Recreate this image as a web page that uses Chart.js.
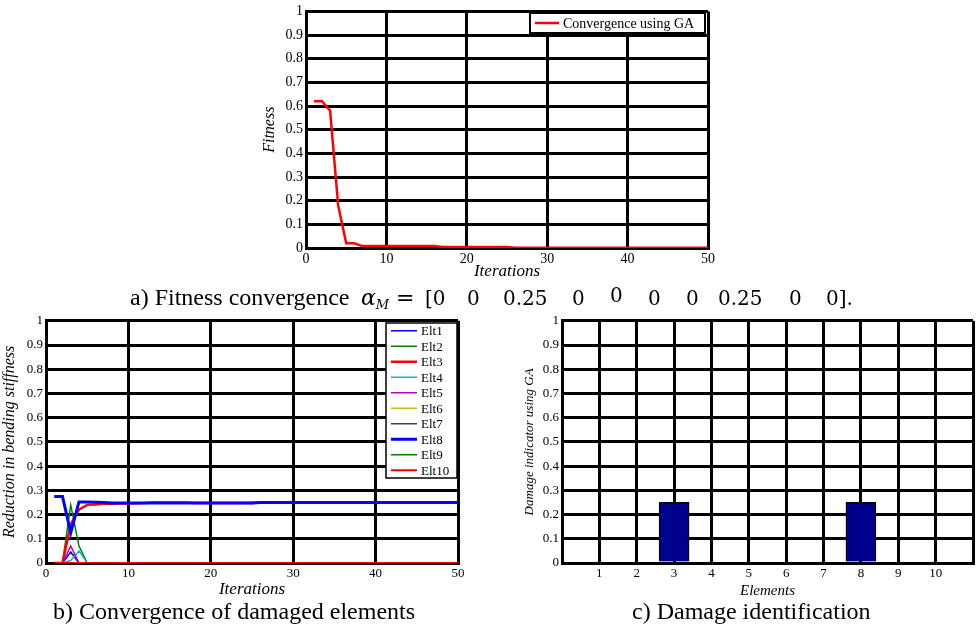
<!DOCTYPE html>
<html>
<head>
<meta charset="utf-8">
<script src="https://cdn.jsdelivr.net/npm/chart.js@4.4.0/dist/chart.umd.min.js"></script>
<style>
  body { margin: 0; background: #fff; width: 977px; height: 627px; position: relative; overflow: hidden; font-family: "Liberation Serif", serif; }
  .box { position: absolute; }
  .cap { position: absolute; font-size: 24px; white-space: nowrap; color: #000; }
  .m { position: absolute; font-family: "DejaVu Serif", serif; font-size: 20px; white-space: nowrap; }
</style>
</head>
<body>
<div class="box" style="left:250px;top:0;width:470px;height:282px"><canvas id="fitness-chart"></canvas></div>
<div class="box" style="left:0;top:310px;width:480px;height:290px"><canvas id="convergence-chart"></canvas></div>
<div class="box" style="left:500px;top:310px;width:477px;height:290px"><canvas id="damage-chart"></canvas></div>

<div class="cap" style="left:130px;top:284px">a) Fitness convergence</div>
<div class="m" style="left:361px;top:285px;font-size:22px"><i>α</i><sub style="font-size:13px;vertical-align:-4px"><i>M</i></sub></div>
<div class="m" style="left:396px;top:285px;font-size:22px">=</div>
<div class="m" style="left:425px;top:286px">[0</div>
<div class="m" style="left:467px;top:286px">0</div>
<div class="m" style="left:503px;top:286px">0.25</div>
<div class="m" style="left:572px;top:286px">0</div>
<div class="m" style="left:610px;top:283px">0</div>
<div class="m" style="left:648px;top:286px">0</div>
<div class="m" style="left:686px;top:286px">0</div>
<div class="m" style="left:718px;top:286px">0.25</div>
<div class="m" style="left:789px;top:286px">0</div>
<div class="m" style="left:826px;top:286px">0].</div>

<div class="cap" style="left:53px;top:598px">b) Convergence of damaged elements</div>
<div class="cap" style="left:632px;top:598px">c) Damage identification</div>

<script>
var iterations = [1, 2, 3, 4, 5, 6, 7, 8, 9, 10,
                  11, 12, 13, 14, 15, 16, 17, 18, 19, 20,
                  21, 22, 23, 24, 25, 26, 27, 28, 29, 30,
                  31, 32, 33, 34, 35, 36, 37, 38, 39, 40,
                  41, 42, 43, 44, 45, 46, 47, 48, 49, 50];

var fitness = [0.62, 0.62, 0.58, 0.18, 0.02, 0.02, 0.008, 0.008, 0.008, 0.008,
               0.008, 0.008, 0.008, 0.008, 0.008, 0.008, 0.004, 0.004, 0.004, 0.004,
               0.004, 0.004, 0.004, 0.004, 0.004, 0.001, 0.001, 0.001, 0.001, 0.001,
               0.001, 0.001, 0.001, 0.001, 0.001, 0.001, 0.001, 0.001, 0.001, 0.001,
               0.001, 0.001, 0.001, 0.001, 0.001, 0.001, 0.001, 0.001, 0.001, 0.001];

var eltNames = ["Elt1", "Elt2", "Elt3", "Elt4", "Elt5", "Elt6", "Elt7", "Elt8", "Elt9", "Elt10"];
var eltColors = ["#0000ff", "#008000", "#ff0000", "#00bfbf", "#bf00bf", "#bfbf00", "#404040", "#0000ff", "#008000", "#ff0000"];
var eltWidths = [1.5, 1.5, 2.5, 1.5, 1.5, 1.5, 1.5, 3, 1.5, 2];

var elt1 = [0, 0, 0.045, 0, 0, 0, 0, 0, 0, 0,
            0, 0, 0, 0, 0, 0, 0, 0, 0, 0,
            0, 0, 0, 0, 0, 0, 0, 0, 0, 0,
            0, 0, 0, 0, 0, 0, 0, 0, 0, 0,
            0, 0, 0, 0, 0, 0, 0, 0, 0, 0];
var elt2 = [0, 0, 0.24, 0.07, 0, 0, 0, 0, 0, 0,
            0, 0, 0, 0, 0, 0, 0, 0, 0, 0,
            0, 0, 0, 0, 0, 0, 0, 0, 0, 0,
            0, 0, 0, 0, 0, 0, 0, 0, 0, 0,
            0, 0, 0, 0, 0, 0, 0, 0, 0, 0];
var elt3 = [0, 0, 0.16, 0.22, 0.24, 0.242, 0.245, 0.245, 0.246, 0.246,
            0.247, 0.248, 0.25, 0.25, 0.25, 0.25, 0.25, 0.248, 0.248, 0.248,
            0.248, 0.248, 0.248, 0.248, 0.248, 0.25, 0.25, 0.25, 0.25, 0.25,
            0.25, 0.25, 0.25, 0.25, 0.25, 0.25, 0.25, 0.25, 0.25, 0.25,
            0.25, 0.25, 0.25, 0.25, 0.25, 0.25, 0.25, 0.25, 0.25, 0.25];
var elt4 = [0, 0, 0.01, 0.05, 0, 0, 0, 0, 0, 0,
            0, 0, 0, 0, 0, 0, 0, 0, 0, 0,
            0, 0, 0, 0, 0, 0, 0, 0, 0, 0,
            0, 0, 0, 0, 0, 0, 0, 0, 0, 0,
            0, 0, 0, 0, 0, 0, 0, 0, 0, 0];
var elt5 = [0, 0, 0.07, 0, 0, 0, 0, 0, 0, 0,
            0, 0, 0, 0, 0, 0, 0, 0, 0, 0,
            0, 0, 0, 0, 0, 0, 0, 0, 0, 0,
            0, 0, 0, 0, 0, 0, 0, 0, 0, 0,
            0, 0, 0, 0, 0, 0, 0, 0, 0, 0];
var elt6 = [0, 0, 0, 0, 0, 0, 0, 0, 0, 0,
            0, 0, 0, 0, 0, 0, 0, 0, 0, 0,
            0, 0, 0, 0, 0, 0, 0, 0, 0, 0,
            0, 0, 0, 0, 0, 0, 0, 0, 0, 0,
            0, 0, 0, 0, 0, 0, 0, 0, 0, 0];
var elt7 = [0, 0, 0, 0, 0, 0, 0, 0, 0, 0,
            0, 0, 0, 0, 0, 0, 0, 0, 0, 0,
            0, 0, 0, 0, 0, 0, 0, 0, 0, 0,
            0, 0, 0, 0, 0, 0, 0, 0, 0, 0,
            0, 0, 0, 0, 0, 0, 0, 0, 0, 0];
var elt8 = [0.275, 0.275, 0.125, 0.252, 0.252, 0.251, 0.25, 0.248, 0.248, 0.248,
            0.248, 0.248, 0.248, 0.248, 0.248, 0.248, 0.248, 0.248, 0.248, 0.248,
            0.248, 0.248, 0.248, 0.248, 0.248, 0.25, 0.25, 0.25, 0.25, 0.25,
            0.25, 0.25, 0.25, 0.25, 0.25, 0.25, 0.25, 0.25, 0.25, 0.25,
            0.25, 0.25, 0.25, 0.25, 0.25, 0.25, 0.25, 0.25, 0.25, 0.25];
var elt9 = [0, 0, 0, 0, 0, 0, 0, 0, 0, 0,
            0, 0, 0, 0, 0, 0, 0, 0, 0, 0,
            0, 0, 0, 0, 0, 0, 0, 0, 0, 0,
            0, 0, 0, 0, 0, 0, 0, 0, 0, 0,
            0, 0, 0, 0, 0, 0, 0, 0, 0, 0];
var elt10 = [0, 0, 0, 0, 0, 0, 0, 0, 0, 0,
             0, 0, 0, 0, 0, 0, 0, 0, 0, 0,
             0, 0, 0, 0, 0, 0, 0, 0, 0, 0,
             0, 0, 0, 0, 0, 0, 0, 0, 0, 0,
             0, 0, 0, 0, 0, 0, 0, 0, 0, 0];

var elements = [1, 2, 3, 4, 5, 6, 7, 8, 9, 10];
var damage = [0, 0, 0.25, 0, 0, 0, 0, 0.25, 0, 0];

Chart.defaults.font.family = '"Liberation Serif", serif';
Chart.defaults.color = "#000";

var toPoints = function (xs, ys) {
   return xs.map(function (x, i) { return { x: x, y: ys[i] }; });
};

// legend box drawn inside the plot, matlab style
var boxLegend = {
   id: "boxLegend",
   afterDraw: function (chart, args, opts) {
      var ctx = chart.ctx;
      var sets = chart.data.datasets;
      ctx.save();
      ctx.fillStyle = "#fff";
      ctx.fillRect(opts.x, opts.y, opts.w, opts.h);
      ctx.strokeStyle = "#000";
      ctx.lineWidth = opts.border;
      ctx.strokeRect(opts.x, opts.y, opts.w, opts.h);
      ctx.font = opts.font;
      ctx.textBaseline = "middle";
      ctx.fillStyle = "#000";
      for (var i = 0; i < sets.length; i++) {
         var cy = opts.y + opts.pad + opts.rowH * (i + 0.5);
         ctx.beginPath();
         ctx.strokeStyle = sets[i].borderColor;
         ctx.lineWidth = sets[i].borderWidth;
         ctx.moveTo(opts.x + 5, cy);
         ctx.lineTo(opts.x + 5 + opts.lineLen, cy);
         ctx.stroke();
         ctx.fillText(sets[i].label, opts.x + 9 + opts.lineLen, cy + 1);
      }
      ctx.restore();
   }
};

var makeAxis = function (min, max, step, title, titleSize, tickSize, fit, hideEnds) {
   return {
      type: "linear",
      min: min,
      max: max,
      offset: false,
      ticks: {
         stepSize: step,
         font: { size: tickSize },
         padding: 3,
         autoSkip: false,
         callback: function (v) {
            if (hideEnds && (v === min || v === max)) return "";
            return +v.toFixed(1);
         }
      },
      grid: { color: "#000", lineWidth: 3, drawTicks: false, offset: false },
      border: { color: "#000", width: 3 },
      title: { display: true, text: title, font: { size: titleSize, style: "italic" }, padding: 0 },
      afterFit: fit
   };
};

var createFitnessChart = function () {
   var config = {
      type: "line",
      data: {
         datasets: [{
            label: "Convergence using GA",
            data: toPoints(iterations, fitness),
            borderColor: "#ff0000",
            borderWidth: 2.5,
            pointRadius: 0,
            tension: 0
         }]
      },
      options: {
         responsive: true,
         maintainAspectRatio: false,
         animation: false,
         layout: { padding: { top: 10, right: 12, left: 10, bottom: 0 } },
         plugins: {
            legend: { display: false },
            tooltip: { enabled: false },
            boxLegend: { x: 280, y: 13, w: 175, h: 20, pad: 0, rowH: 20, lineLen: 24, border: 2, font: '14px "Liberation Serif"' }
         },
         scales: {
            x: makeAxis(0, 50, 10, "Iterations", 17, 14, function (s) { s.height = 34; }),
            y: makeAxis(0, 1, 0.1, "Fitness", 16, 14, function (s) { s.width = 46; })
         }
      },
      plugins: [boxLegend]
   };
   new Chart(document.getElementById("fitness-chart").getContext("2d"), config);
};

var createConvergenceChart = function () {
   var series = [elt1, elt2, elt3, elt4, elt5, elt6, elt7, elt8, elt9, elt10];
   var datasets = [];
   series.forEach(function (vals, i) {
      datasets.push({
         label: eltNames[i],
         data: toPoints(iterations, vals),
         borderColor: eltColors[i],
         borderWidth: eltWidths[i],
         pointRadius: 0,
         tension: 0,
         order: 10 - i
      });
   });
   var config = {
      type: "line",
      data: { datasets: datasets },
      options: {
         responsive: true,
         maintainAspectRatio: false,
         animation: false,
         layout: { padding: { top: 10, right: 22, left: 0, bottom: 0 } },
         plugins: {
            legend: { display: false },
            tooltip: { enabled: false },
            boxLegend: { x: 386, y: 13, w: 71, h: 155, pad: 0, rowH: 15.5, lineLen: 26, border: 1.5, font: '13px "Liberation Serif"' }
         },
         scales: {
            x: makeAxis(0, 50, 10, "Iterations", 17, 13, function (s) { s.height = 37; }),
            y: makeAxis(0, 1, 0.1, "Reduction in bending stiffness", 16, 13, function (s) { s.width = 46; })
         }
      },
      plugins: [boxLegend]
   };
   new Chart(document.getElementById("convergence-chart").getContext("2d"), config);
};

var createDamageChart = function () {
   var config = {
      type: "bar",
      data: {
         datasets: [{
            label: "Damage",
            data: toPoints(elements, damage),
            backgroundColor: "#00008f",
            borderColor: "#000",
            borderWidth: 1.5,
            barThickness: 30
         }]
      },
      options: {
         responsive: true,
         maintainAspectRatio: false,
         animation: false,
         layout: { padding: { top: 10, right: 4, left: 22, bottom: 0 } },
         plugins: { legend: { display: false }, tooltip: { enabled: false } },
         scales: {
            x: makeAxis(0, 11, 1, "Elements", 15, 13, function (s) { s.height = 37; }, true),
            y: makeAxis(0, 1, 0.1, "Damage indicator using GA", 13, 13, function (s) { s.width = 40; })
         }
      }
   };
   new Chart(document.getElementById("damage-chart").getContext("2d"), config);
};

createFitnessChart();
createConvergenceChart();
createDamageChart();
</script>
</body>
</html>
